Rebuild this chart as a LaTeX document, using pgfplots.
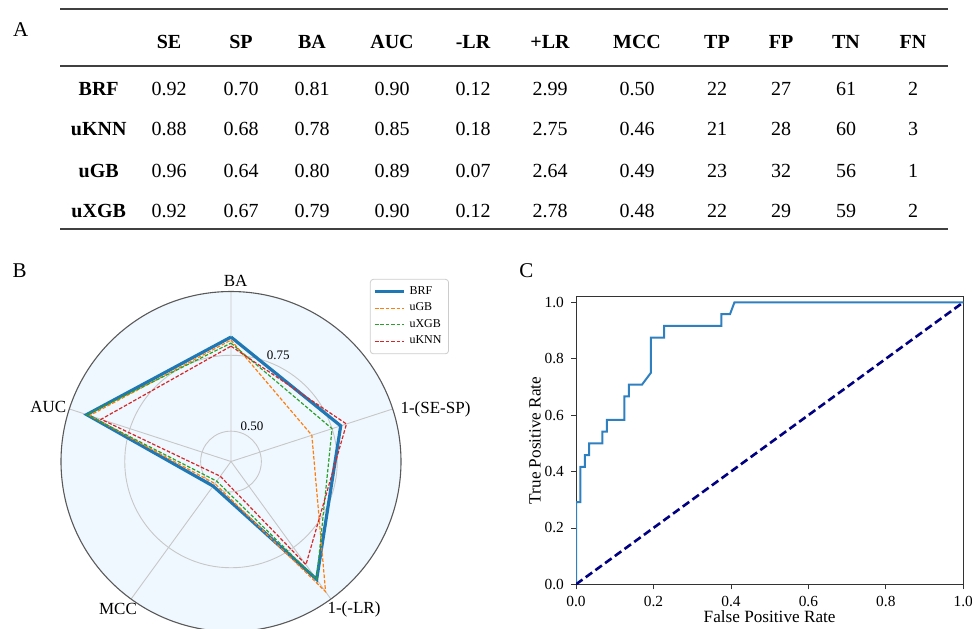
\documentclass[border=0pt]{standalone}
\usepackage{fontspec}
\setmainfont{Liberation Serif}
\usepackage{pgfplots}
\pgfplotsset{compat=1.18}
\usepgfplotslibrary{polar}
\usepackage{pgfplotstable}

\definecolor{tabblue}{HTML}{1F77B4}
\definecolor{rocblue}{HTML}{2F80C0}
\definecolor{taborange}{HTML}{FF7F0E}
\definecolor{tabgreen}{HTML}{2CA02C}
\definecolor{tabred}{HTML}{D62728}
\definecolor{radarbg}{HTML}{F0F8FF}
\definecolor{rocnavy}{HTML}{000080}

\newcommand\tabfont{\fontsize{10}{12}\selectfont}
\newcommand\radfont{\fontsize{8.5}{10}\selectfont}

% radar values: 1-(SE-SP) and 1-(-LR) taken from the table
\pgfplotstableread{
ang   BRF   uGB   uXGB  uKNN
90    0.81  0.80  0.79  0.78
18    0.78  0.68  0.75  0.80
-54   0.88  0.93  0.88  0.82
-126  0.50  0.49  0.48  0.46
162   0.90  0.89  0.90  0.85
90    0.81  0.80  0.79  0.78
}\radardata

\begin{document}
\begin{tikzpicture}
\useasboundingbox (0,0) rectangle (486pt,314pt);

% ---------------- panel A: table (pixel coordinates of the reference)
\begin{scope}[x=0.5pt, y=-0.5pt, shift={(0pt,314pt)}]
\draw[black!75, line width=1pt] (60,9.3) -- (948,9.3);
\draw[black!75, line width=1pt] (60,66) -- (948,66);
\draw[black!75, line width=1pt] (60,229.3) -- (948,229.3);
\foreach \xx/\h in {169/SE,241/SP,312/BA,392/AUC,473/-LR,550/+LR,637/MCC,717/TP,781/FP,846/TN,913/FN}
  \node[font=\tabfont\bfseries] at (\xx,41.7) {\h};
\foreach \yy/\lab/\vals in {
  89.3/BRF/{0.92,0.70,0.81,0.90,0.12,2.99,0.50,22,27,61,2},
  129.3/uKNN/{0.88,0.68,0.78,0.85,0.18,2.75,0.46,21,28,60,3},
  170.7/uGB/{0.96,0.64,0.80,0.89,0.07,2.64,0.49,23,32,56,1},
  210.7/uXGB/{0.92,0.67,0.79,0.90,0.12,2.78,0.48,22,29,59,2}} {
  \node[font=\tabfont\bfseries] at (98.7,\yy) {\lab};
  \foreach \v [count=\i] in \vals {
    \pgfmathsetmacro\xx{{169,241,312,392,473,550,637,717,781,846,913}[\i-1]}
    \node[font=\tabfont] at (\xx,\yy) {\v};
  }
}
\end{scope}

\node[font=\fontsize{10.5}{12}\selectfont] at (10.35pt,299.25pt) {A};
\node[font=\fontsize{10.5}{12}\selectfont] at (9.85pt,178.5pt) {B};
\node[font=\fontsize{10.5}{12}\selectfont] at (263.2pt,178.75pt) {C};

% ---------------- panel B: radar
\begin{polaraxis}[
  at={(115.5pt,83.25pt)}, anchor=center,
  width=170pt, height=170pt, scale only axis,
  ymin=0, ymax=0.56,
  xtick={18,90,162,234,306}, xticklabels={},
  ytick={0.1,0.35}, yticklabels={},
  grid=major, major grid style={black!22, line width=0.45pt},
  major tick length=0pt,
  axis line style={black!65, line width=0.55pt},
  y axis line style={draw=none},
  axis background/.style={fill=radarbg},
  legend style={at={(1.141,1.037)}, anchor=north east, draw=black!20,
    rounded corners=1.5pt, fill=white, font=\fontsize{6}{7}\selectfont,
    row sep=-1.2pt, inner sep=1.5pt},
  legend cell align=left,
  legend image code/.code={\draw[#1] (0pt,0pt) -- (14.5pt,0pt);},
]
\addplot[tabblue, line width=1.6pt, no markers] table[x=ang, y expr=\thisrow{BRF}-0.4] {\radardata};
\addlegendentry{BRF}
\addplot[taborange, line width=0.6pt, dash pattern=on 1.8pt off 0.9pt, no markers] table[x=ang, y expr=\thisrow{uGB}-0.4] {\radardata};
\addlegendentry{uGB}
\addplot[tabgreen, line width=0.6pt, dash pattern=on 1.8pt off 0.9pt, no markers] table[x=ang, y expr=\thisrow{uXGB}-0.4] {\radardata};
\addlegendentry{uXGB}
\addplot[tabred, line width=0.6pt, dash pattern=on 1.8pt off 0.9pt, no markers] table[x=ang, y expr=\thisrow{uKNN}-0.4] {\radardata};
\addlegendentry{uKNN}
\node[font=\fontsize{6.5}{8}\selectfont] at (axis cs:66,0.383) {0.75};
\node[font=\fontsize{6.5}{8}\selectfont] at (axis cs:59.4,0.136) {0.50};
\end{polaraxis}

% category labels round the radar
\node[font=\radfont] at (117.85pt,173.35pt) {BA};
\node[font=\radfont] at (217.75pt,109.5pt) {1-(SE-SP)};
\node[font=\radfont] at (24.15pt,110.5pt) {AUC};
\node[font=\radfont] at (59pt,9.5pt) {MCC};
\node[font=\radfont] at (177pt,9.5pt) {1-(-LR)};

% ---------------- panel C: ROC
\begin{axis}[
  at={(288pt,21.85pt)}, anchor=south west, scale only axis,
  width=193.65pt, height=143.8pt,
  xmin=0, xmax=1, ymin=0, ymax=1.02,
  xtick={0,0.2,0.4,0.6,0.8,1}, ytick={0,0.2,0.4,0.6,0.8,1},
  tick pos=left, tick align=outside, major tick length=2.5pt,
  tick style={black!80, line width=0.4pt},
  axis line style={black!80, line width=0.45pt},
  ticklabel style={font=\fontsize{7.7}{9}\selectfont},
  xticklabel style={/pgf/number format/fixed, /pgf/number format/fixed zerofill, /pgf/number format/precision=1},
  yticklabel style={/pgf/number format/fixed, /pgf/number format/fixed zerofill, /pgf/number format/precision=1},
  /pgf/number format/assume math mode=true,
  xlabel={False Positive Rate}, ylabel={True Positive Rate},
  every axis x label/.style={at={(axis description cs:0.5,-0.1137)}, anchor=center,
    font=\fontsize{8.6}{10}\selectfont},
  every axis y label/.style={at={(axis description cs:-0.1059,0.5)}, anchor=center, rotate=90,
    font=\fontsize{8.6}{10}\selectfont},
]
\addplot[rocblue, line width=1pt] coordinates {
(0,0) (0,0.2917) (0.0114,0.2917) (0.0114,0.4167) (0.0227,0.4167) (0.0227,0.4583)
(0.0341,0.4583) (0.0341,0.5) (0.0682,0.5) (0.0682,0.5417) (0.0795,0.5417) (0.0795,0.5833)
(0.125,0.5833) (0.125,0.6667) (0.1364,0.6667) (0.1364,0.7083) (0.1705,0.7083) (0.1932,0.75)
(0.1932,0.875) (0.2273,0.875) (0.2273,0.9167) (0.375,0.9167) (0.375,0.9583) (0.3977,0.9583)
(0.4091,1) (1,1)};
\addplot[rocnavy, line width=1.3pt, dash pattern=on 4pt off 2pt] coordinates {(0,0) (1,1)};
\end{axis}
\end{tikzpicture}
\end{document}
